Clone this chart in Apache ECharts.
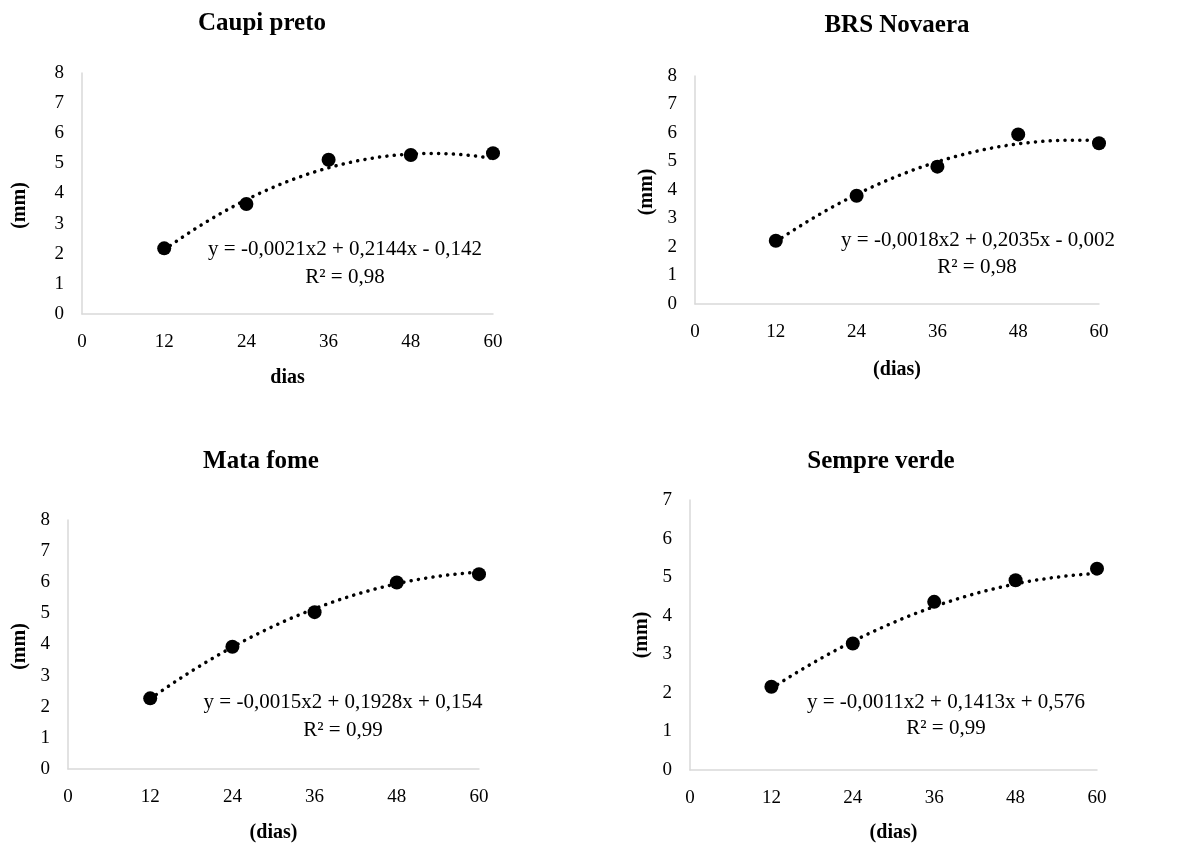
<!DOCTYPE html>
<html>
<head>
<meta charset="utf-8">
<script src="https://cdn.jsdelivr.net/npm/echarts@6/dist/echarts.min.js"></script>
<style>html,body{margin:0;padding:0;background:#fff}#c{width:1189px;height:846px}</style>
</head>
<body>
<div id="c"></div>
<script>
const days = [12, 24, 36, 48, 60];
const xTicks = [0, 12, 24, 36, 48, 60];
const titles = ['Caupi preto', 'BRS Novaera', 'Mata fome', 'Sempre verde'];
const xNames = ['dias', '(dias)', '(dias)', '(dias)'];
const yName = '(mm)';
const caupiPreto = [2.18, 3.65, 5.12, 5.28, 5.34];
const brsNovaera = [2.22, 3.80, 4.82, 5.95, 5.64];
const mataFome = [2.27, 3.93, 5.04, 5.99, 6.26];
const sempreVerde = [2.16, 3.28, 4.36, 4.92, 5.22];
const yMax = [8, 8, 8, 7];
// trendline coefficients [a, b, c] for y = a x^2 + b x + c, as printed on the chart
const coefCaupi = [-0.0021, 0.2144, -0.142];
const coefBrs = [-0.0018, 0.2035, -0.002];
const coefMata = [-0.0015, 0.1928, 0.154];
const coefSempre = [-0.0011, 0.1413, 0.576];
const equations = [
  'y = -0,0021x2 + 0,2144x - 0,142',
  'y = -0,0018x2 + 0,2035x - 0,002',
  'y = -0,0015x2 + 0,1928x + 0,154',
  'y = -0,0011x2 + 0,1413x + 0,576'
];
const r2 = ['R² = 0,98', 'R² = 0,98', 'R² = 0,99', 'R² = 0,99'];

const series = [caupiPreto, brsNovaera, mataFome, sempreVerde];
const coefs = [coefCaupi, coefBrs, coefMata, coefSempre];

const layout = [
  {grid: {left: 82, top: 73, width: 411, height: 241}, title: [262, 25], eq: [345, 249], r2: [345, 277], xGap: 54, yGap: 52, yShift: 24},
  {grid: {left: 695, top: 76, width: 404, height: 228}, title: [897, 27], eq: [978, 240], r2: [977, 267], xGap: 56, yGap: 38, yShift: 4},
  {grid: {left: 68, top: 520, width: 411, height: 249}, title: [261, 463], eq: [343, 702], r2: [343, 730], xGap: 54, yGap: 38, yShift: 4},
  {grid: {left: 690, top: 500, width: 407, height: 270}, title: [881, 463], eq: [946, 702], r2: [946, 728], xGap: 53, yGap: 38, yShift: 0}
];

const FONT = '"Liberation Serif", "Times New Roman", serif';

function trend(c) {
  const pts = [];
  for (let x = days[0]; x <= days[days.length - 1]; x += 0.5) {
    pts.push([x, c[0] * x * x + c[1] * x + c[2]]);
  }
  return pts;
}

const option = {
  animation: false,
  backgroundColor: '#fff',
  title: [], grid: [], xAxis: [], yAxis: [], series: [], graphic: []
};

layout.forEach((L, i) => {
  option.title.push({
    text: titles[i], left: L.title[0], top: L.title[1] - 14, textAlign: 'center', padding: 0,
    textStyle: {fontFamily: FONT, fontSize: 25, fontWeight: 'bold', color: '#000'}
  });
  option.grid.push(L.grid);
  option.xAxis.push({
    type: 'value', gridIndex: i, min: 0, max: 60, interval: 12,
    name: xNames[i], nameLocation: 'middle', nameGap: L.xGap,
    nameTextStyle: {fontFamily: FONT, fontSize: 20, fontWeight: 'bold', color: '#000'},
    axisLine: {show: true, onZero: false, lineStyle: {color: '#d9d9d9', width: 1.5}},
    axisTick: {show: false}, splitLine: {show: false},
    axisLabel: {fontFamily: FONT, fontSize: 19, color: '#000', margin: 19}
  });
  option.yAxis.push({
    type: 'value', gridIndex: i, min: 0, max: yMax[i], interval: 1,
    name: yName, nameLocation: 'middle', nameGap: L.yGap, nameRotate: 90,
    nameTextStyle: {fontFamily: FONT, fontSize: 20, fontWeight: 'bold', color: '#000', padding: [0, L.yShift, 0, 0]},
    axisLine: {show: true, lineStyle: {color: '#d9d9d9', width: 1.5}},
    axisTick: {show: false}, splitLine: {show: false},
    axisLabel: {fontFamily: FONT, fontSize: 19, color: '#000', margin: 18}
  });
  option.series.push({
    type: 'line', xAxisIndex: i, yAxisIndex: i, data: trend(coefs[i]), showSymbol: false, symbol: 'none',
    lineStyle: {color: '#000', width: 3.5, type: [0.1, 7.3], cap: 'round'}, z: 2
  });
  option.series.push({
    type: 'scatter', xAxisIndex: i, yAxisIndex: i,
    data: days.map((d, k) => [d, series[i][k]]),
    symbol: 'circle', symbolSize: 14, itemStyle: {color: '#000', opacity: 1}, z: 3
  });
  option.graphic.push({
    type: 'text', x: L.eq[0], y: L.eq[1],
    style: {text: equations[i], fontFamily: FONT, fontSize: 21, fill: '#000', textAlign: 'center', textVerticalAlign: 'middle'}
  });
  option.graphic.push({
    type: 'text', x: L.r2[0], y: L.r2[1],
    style: {text: r2[i], fontFamily: FONT, fontSize: 21, fill: '#000', textAlign: 'center', textVerticalAlign: 'middle'}
  });
});

const chart = echarts.init(document.getElementById('c'));
chart.setOption(option);
</script>
</body>
</html>
